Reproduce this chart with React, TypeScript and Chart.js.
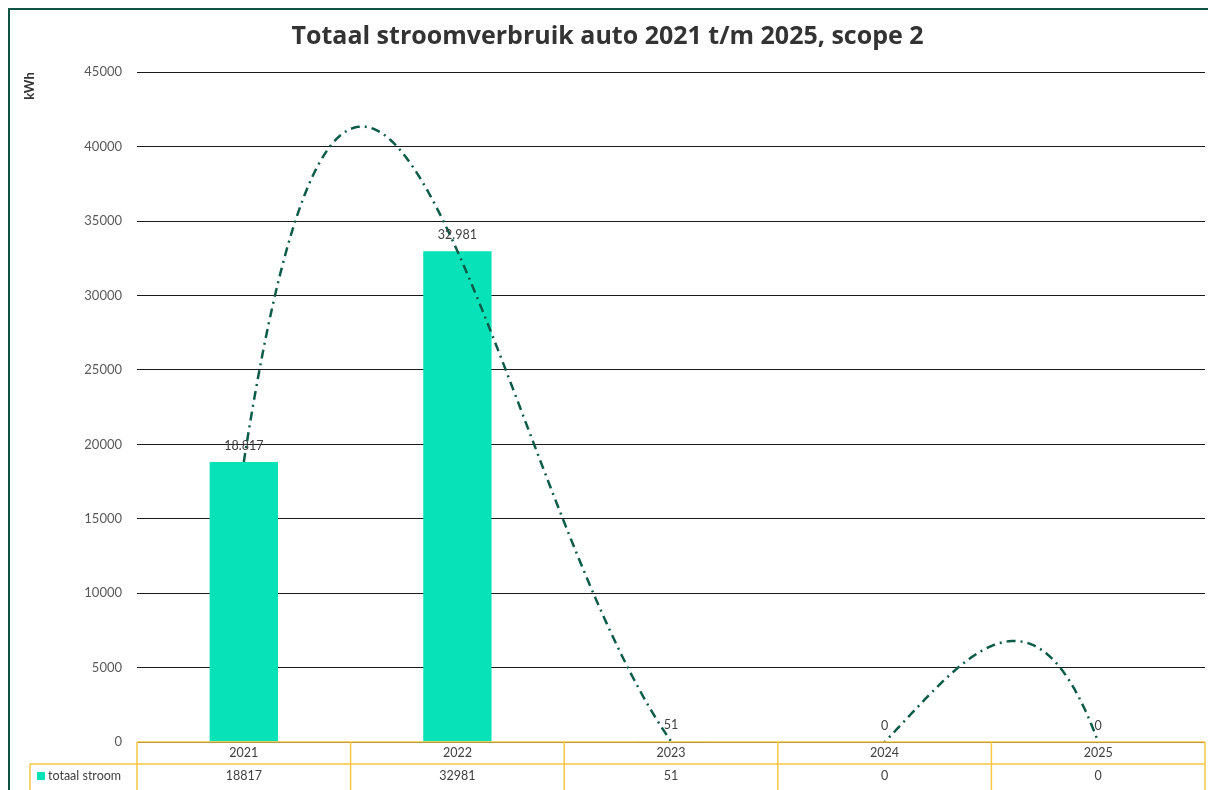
import React, { useEffect, useRef } from "react";
import { Chart, registerables } from "chart.js";

Chart.register(...registerables);

const TITLE = "Totaal stroomverbruik auto 2021 t/m 2025, scope 2";
const Y_TITLE = "kWh";
const CATEGORIES = ["2021", "2022", "2023", "2024", "2025"];
const SERIES_NAME = "totaal stroom";
const VALUES = [18817, 32981, 51, 0, 0];
const Y_MIN = 0;
const Y_MAX = 45000;
const Y_STEP = 5000;
const TREND_ORDER = 4; // polynomial trendline (as in the source spreadsheet)

const FONT = "Lato, 'Open Sans', sans-serif";
const TITLE_FONT = "'Open Sans', Lato, sans-serif";
const BAR_COLOR = "#08E2B8";
const TREND_COLOR = "#0D5C49";
const TABLE_COLOR = "#F7C744";
const TEXT_COLOR = "#404040";

function fmtNL(v: number): string {
  return String(v).replace(/\B(?=(\d{3})+(?!\d))/g, ".");
}

// Least-squares polynomial fit of given order on x = 1..n (Excel trendline style)
function polyFit(ys: number[], order: number): number[] {
  const n = ys.length;
  const m = order + 1;
  const A: number[][] = [];
  for (let r = 0; r < m; r++) {
    const row: number[] = [];
    for (let c = 0; c < m; c++) {
      let s = 0;
      for (let i = 0; i < n; i++) s += Math.pow(i + 1, r + c);
      row.push(s);
    }
    let b = 0;
    for (let i = 0; i < n; i++) b += ys[i] * Math.pow(i + 1, r);
    row.push(b);
    A.push(row);
  }
  for (let col = 0; col < m; col++) {
    let piv = col;
    for (let r = col + 1; r < m; r++) if (Math.abs(A[r][col]) > Math.abs(A[piv][col])) piv = r;
    [A[col], A[piv]] = [A[piv], A[col]];
    for (let r = 0; r < m; r++) {
      if (r === col) continue;
      const f = A[r][col] / A[col][col];
      for (let c = col; c <= m; c++) A[r][c] -= f * A[col][c];
    }
  }
  return A.map((row, i) => row[m] / row[i]);
}

const trendPlugin = {
  id: "trendline",
  afterDatasetsDraw(chart: any) {
    const { ctx, chartArea, scales } = chart;
    const xs = scales.x;
    const ys = scales.y;
    const coef = polyFit(VALUES, TREND_ORDER);
    const evalP = (t: number) => coef.reduce((s, c, k) => s + c * Math.pow(t, k), 0);
    const x0 = xs.getPixelForValue(0);
    const x1 = xs.getPixelForValue(VALUES.length - 1);
    const step = xs.getPixelForValue(1) - x0;
    ctx.save();
    ctx.beginPath();
    ctx.rect(chartArea.left, chartArea.top, chartArea.right - chartArea.left, chartArea.bottom - chartArea.top);
    ctx.clip();
    ctx.strokeStyle = TREND_COLOR;
    ctx.lineWidth = 2.5;
    ctx.setLineDash([9, 5, 2, 5]);
    ctx.beginPath();
    let first = true;
    for (let px = x0; px <= x1 + 0.01; px += 1) {
      const t = 1 + (px - x0) / step;
      const py = ys.getPixelForValue(evalP(t));
      if (first) { ctx.moveTo(px, py); first = false; } else ctx.lineTo(px, py);
    }
    ctx.stroke();
    ctx.restore();
  },
};

const labelPlugin = {
  id: "barLabels",
  afterDatasetsDraw(chart: any) {
    const { ctx } = chart;
    const meta = chart.getDatasetMeta(0);
    ctx.save();
    ctx.font = `12.5px ${FONT}`;
    ctx.fillStyle = TEXT_COLOR;
    ctx.textAlign = "center";
    ctx.textBaseline = "middle";
    meta.data.forEach((el: any, i: number) => {
      ctx.fillText(fmtNL(VALUES[i]), el.x, el.y - 16);
    });
    ctx.restore();
  },
};

const tablePlugin = {
  id: "dataTable",
  afterDraw(chart: any) {
    const { ctx, chartArea, scales, height } = chart;
    const xs = scales.x;
    const n = CATEGORIES.length;
    const half = (xs.getPixelForValue(1) - xs.getPixelForValue(0)) / 2;
    const top = chartArea.bottom;
    const rowH = 22;
    const r2 = top + rowH;
    const legendLeft = 20;
    ctx.save();
    ctx.strokeStyle = TABLE_COLOR;
    ctx.lineWidth = 1.5;
    ctx.beginPath();
    ctx.moveTo(chartArea.left, top);
    ctx.lineTo(xs.getPixelForValue(n - 1) + half, top);
    ctx.moveTo(legendLeft, r2);
    ctx.lineTo(xs.getPixelForValue(n - 1) + half, r2);
    ctx.moveTo(legendLeft, r2);
    ctx.lineTo(legendLeft, height);
    for (let i = 0; i <= n; i++) {
      const bx = xs.getPixelForValue(0) - half + i * 2 * half;
      ctx.moveTo(bx, top);
      ctx.lineTo(bx, height);
    }
    ctx.stroke();

    ctx.fillStyle = TEXT_COLOR;
    ctx.font = `12.5px ${FONT}`;
    ctx.textAlign = "center";
    ctx.textBaseline = "middle";
    CATEGORIES.forEach((c, i) => {
      const cx = xs.getPixelForValue(i);
      ctx.fillText(c, cx, top + rowH / 2);
      ctx.fillText(String(VALUES[i]), cx, r2 + rowH / 2 + 1);
    });
    ctx.fillStyle = BAR_COLOR;
    ctx.fillRect(legendLeft + 7, r2 + 8, 8, 8);
    ctx.fillStyle = TEXT_COLOR;
    ctx.textAlign = "left";
    ctx.fillText(SERIES_NAME, legendLeft + 18, r2 + rowH / 2 + 1);
    ctx.restore();
  },
};

export default function App() {
  const ref = useRef<HTMLCanvasElement>(null);
  useEffect(() => {
    if (!ref.current) return;
    const chart = new Chart(ref.current, {
      type: "bar",
      data: {
        labels: CATEGORIES,
        datasets: [
          {
            label: SERIES_NAME,
            data: VALUES,
            backgroundColor: BAR_COLOR,
            barPercentage: 0.32,
            categoryPercentage: 1,
          },
        ],
      },
      options: {
        responsive: false,
        animation: false,
        layout: { padding: { top: 0, right: 11, left: 0, bottom: 0 } },
        plugins: {
          legend: { display: false },
          tooltip: { enabled: false },
          title: {
            display: true,
            text: TITLE,
            color: "#333333",
            font: { family: TITLE_FONT, size: 25, weight: "bold", lineHeight: 1.25 },
            padding: { top: 11, bottom: 20 },
          },
        },
        scales: {
          x: {
            grid: { display: false },
            border: { display: false },
            ticks: { display: false },
            afterFit(scale: any) {
              scale.height = 58;
            },
          },
          y: {
            min: Y_MIN,
            max: Y_MAX,
            ticks: {
              stepSize: Y_STEP,
              padding: 15,
              color: "#595959",
              font: { family: FONT, size: 13 },
              callback: (v: any) => String(v),
            },
            grid: { color: "#1a1a1a", lineWidth: 1, drawTicks: false },
            border: { display: false },
            title: {
              display: true,
              text: Y_TITLE,
              align: "end",
              color: "#333333",
              font: { family: FONT, size: 13, weight: "bold" },
              padding: { top: 12, bottom: 0 },
            },
            afterFit(scale: any) {
              scale.width = 127;
            },
          },
        },
      },
      plugins: [trendPlugin, labelPlugin, tablePlugin],
    } as any);
    return () => chart.destroy();
  }, []);

  return (
    <div style={{ width: 1208, height: 782, overflow: "hidden" }}>
      <div
        style={{
          borderLeft: "2px solid #0E5444",
          borderTop: "2px solid #0E5444",
          width: 1206,
          height: 790,
        }}
      >
        <canvas ref={ref} width={1206} height={790} style={{ display: "block" }} />
      </div>
    </div>
  );
}
